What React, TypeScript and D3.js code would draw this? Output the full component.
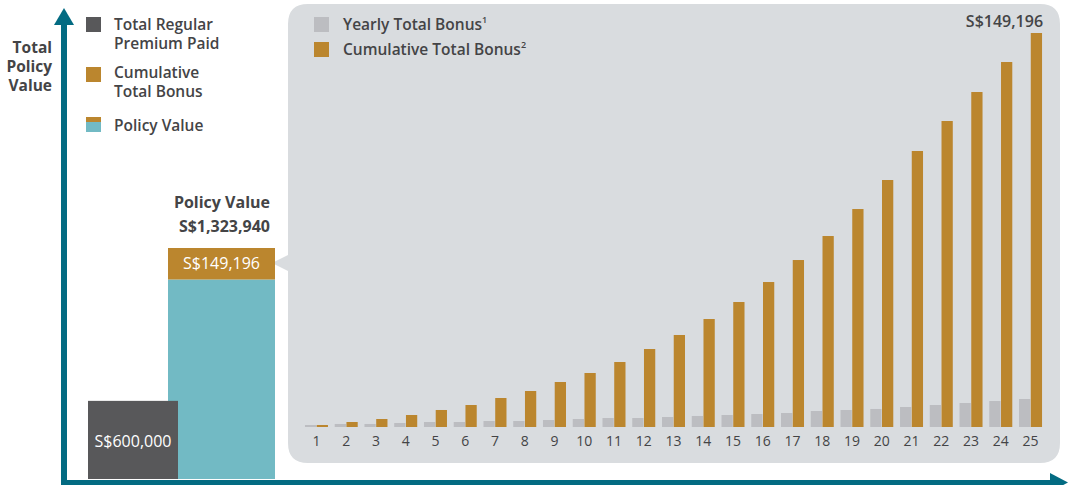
import React from 'react';
import * as d3 from 'd3';

// valores (S$)
const years = d3.range(1, 26).map(String);
const yearlyBonus = [760, 1140, 1140, 1510, 1890, 1890, 2270, 2270, 2650, 3030, 3410, 3410, 3790, 4170, 4540, 4920, 5300, 6060, 6440, 6820, 7570, 8330, 9090, 9840, 10600];
const cumulativeBonus = [760, 1890, 3030, 4540, 6440, 8330, 10980, 13630, 17040, 20450, 24610, 29530, 34840, 40890, 47330, 54900, 63230, 72320, 82540, 93530, 104510, 115870, 126850, 138210, 149196];
const premiumPaid = 600000;
const policyValue = 1323940;
const finalBonus = 149196;
const series = ['yearly', 'cumulative'];

const colors = {
  axis: '#036b82',
  premium: '#58585a',
  teal: '#72bac4',
  bonus: '#bb862e',
  yearly: '#bcbdc1',
  panel: '#d9dcdf',
  text: '#444446',
};

const font = "'Open Sans', 'Noto Sans', sans-serif";

// texto em várias linhas num único <text>
const Lines = ({ x, y, lines, gap = 19 }: { x: number; y: number; lines: string[]; gap?: number }) => (
  <text x={x} y={y}>
    {lines.map((l, i) => (
      <tspan key={l} x={x} dy={i === 0 ? 0 : gap}>
        {l}
      </tspan>
    ))}
  </text>
);

export default function App() {
  // painel da direita
  const x = d3.scaleBand<string>().domain(years).range([301.6, 1045.4]).paddingInner(0.227).paddingOuter(0.113);
  const xs = d3.scaleBand<string>().domain(series).range([0, x.bandwidth()]).paddingInner(0.04);
  const y = d3.scaleLinear().domain([0, finalBonus]).range([427, 33]);

  // barras da esquerda (eixo ilustrativo, não começa em zero)
  const yL = d3.scaleLinear().domain([230000, policyValue]).range([479, 248]);

  const lastX = (x(years[24]) as number) + (xs('cumulative') as number) + xs.bandwidth();

  return (
    <svg width={1076} height={485} style={{ position: 'absolute', left: 0, top: 0 }} fontFamily={font}>
      {/* painel cinza com seta */}
      <path
        d="M288,24 Q288,4 308,4 L1040,4 Q1060,4 1060,24 L1060,443 Q1060,463 1040,463 L308,463 Q288,463 288,443 L288,271 L272,263 L288,255 Z"
        fill={colors.panel}
      />

      {/* eixos */}
      <line x1={64} y1={22} x2={64} y2={483} stroke={colors.axis} strokeWidth={6} />
      <path d="M54,25 L64,8 L74,25 Z" fill={colors.axis} />
      <line x1={61} y1={482.5} x2={1052} y2={482.5} stroke={colors.axis} strokeWidth={5} />
      <path d="M1050,473 L1068,482.5 L1050,492 Z" fill={colors.axis} />

      {/* título do eixo */}
      <g fill={colors.text} fontWeight={700} fontSize={15.5} textAnchor="end">
        <Lines x={52} y={53} lines={['Total', 'Policy', 'Value']} />
      </g>

      {/* legenda esquerda */}
      <g fill={colors.text} fontWeight={600} fontSize={15.5}>
        <rect x={86} y={17} width={15} height={15} fill={colors.premium} />
        <Lines x={114} y={30} lines={['Total Regular', 'Premium Paid']} />
        <rect x={86} y={67} width={15} height={15} fill={colors.bonus} />
        <Lines x={114} y={78} lines={['Cumulative', 'Total Bonus']} />
        <rect x={86} y={117} width={15} height={5} fill={colors.bonus} />
        <rect x={86} y={122} width={15} height={10} fill={colors.teal} />
        <text x={114} y={131}>Policy Value</text>
      </g>

      {/* barras da esquerda */}
      <rect x={168} y={yL(policyValue - finalBonus)} width={107} height={yL.range()[0] - yL(policyValue - finalBonus)} fill={colors.teal} />
      <rect x={168} y={yL(policyValue)} width={107} height={yL(policyValue - finalBonus) - yL(policyValue)} fill={colors.bonus} />
      <rect x={88} y={yL(premiumPaid)} width={90} height={yL.range()[0] - yL(premiumPaid)} fill={colors.premium} />
      <text x={133} y={447} fill="#fff" fontSize={16} textAnchor="middle" fontWeight={500}>
        S${d3.format(',')(premiumPaid)}
      </text>
      <text x={221.5} y={269} fill="#fff" fontSize={16} textAnchor="middle" fontWeight={500}>
        S${d3.format(',')(finalBonus)}
      </text>
      <g fill={colors.text} fontWeight={700} fontSize={16} textAnchor="end">
        <Lines x={270} y={208} gap={24} lines={['Policy Value', `S$${d3.format(',')(policyValue)}`]} />
      </g>

      {/* legenda do painel */}
      <g fill={colors.text} fontWeight={600} fontSize={15.5}>
        <rect x={314} y={17} width={15} height={15} fill={colors.yearly} />
        <text x={343} y={30}>
          Yearly Total Bonus<tspan fontSize={9} dy={-7}>1</tspan>
        </text>
        <rect x={314} y={42} width={15} height={15} fill={colors.bonus} />
        <text x={343} y={55}>
          Cumulative Total Bonus<tspan fontSize={9} dy={-7}>2</tspan>
        </text>
      </g>

      {/* barras anuais */}
      {years.map((yr, i) => (
        <g key={yr} transform={`translate(${x(yr)},0)`}>
          <rect x={xs('yearly')} y={y(yearlyBonus[i])} width={xs.bandwidth()} height={y(0) - y(yearlyBonus[i])} fill={colors.yearly} />
          <rect x={xs('cumulative')} y={y(cumulativeBonus[i])} width={xs.bandwidth()} height={y(0) - y(cumulativeBonus[i])} fill={colors.bonus} />
          <text x={x.bandwidth() / 2} y={446} textAnchor="middle" fontSize={14} fill={colors.text}>
            {yr}
          </text>
        </g>
      ))}

      <text x={lastX + 1} y={27} textAnchor="end" fontSize={16} fontWeight={600} fill={colors.text}>
        S${d3.format(',')(cumulativeBonus[24])}
      </text>
    </svg>
  );
}
